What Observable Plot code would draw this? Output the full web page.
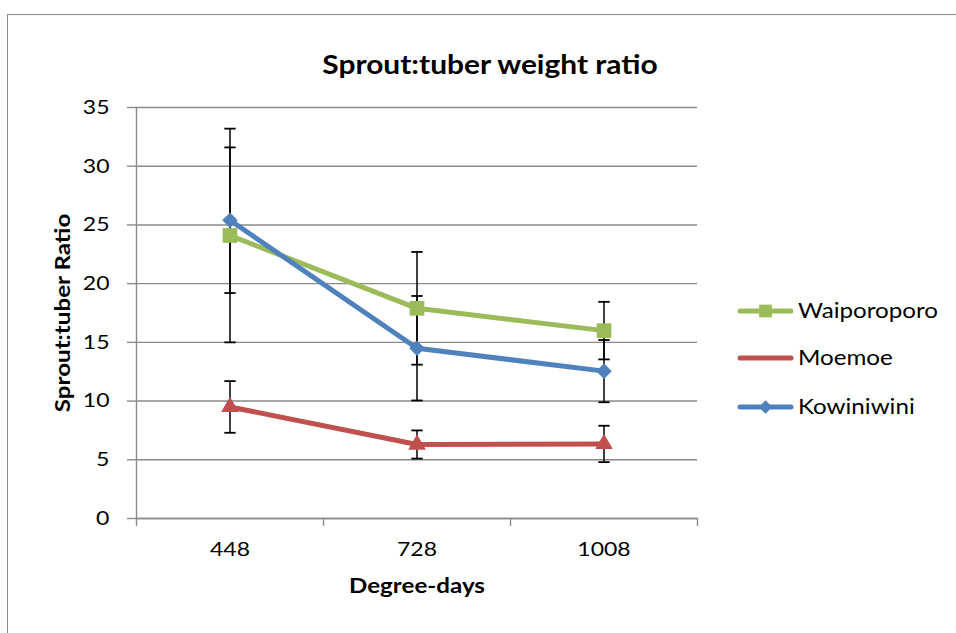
<!DOCTYPE html>
<html><head><meta charset="utf-8">
<script src="https://cdn.jsdelivr.net/npm/d3@7"></script>
<script src="https://cdn.jsdelivr.net/npm/@observablehq/plot@0.6"></script>
<style>
body{margin:0;background:#fff;}
#wrap{position:relative;width:956px;height:633px;overflow:hidden;background:#fff;}
#frame{position:absolute;left:7px;top:14px;width:980px;height:660px;border:1.5px solid #8a8a8a;box-sizing:border-box;}
#chart{position:absolute;left:0;top:0;}
</style></head><body>
<div id="wrap"><div id="frame"></div><div id="chart"></div></div>
<script>
const FONT = "Lato, 'Open Sans', sans-serif";
const titleText = "Sprout:tuber weight ratio";
const xLabel = "Degree-days";
const yLabel = "Sprout:tuber Ratio";
const categories = ["448", "728", "1008"];
const seriesNames = ["Waiporoporo", "Moemoe", "Kowiniwini"];
const waiporoporo = [24.1, 17.9, 16.0];
const waiporoporoErr = [9.1, 4.8, 2.45];
const moemoe = [9.5, 6.3, 6.35];
const moemoeErr = [2.2, 1.2, 1.55];
const kowiniwini = [25.4, 14.5, 12.55];
const kowiniwiniErr = [6.2, 4.45, 2.65];
const yTicks = [0, 5, 10, 15, 20, 25, 30, 35];
const colors = ["#9BBB59", "#C0504D", "#4F81BD"];
const symbols = ["square", "triangle", "diamond2"];
const symbolR = [8.3, 6.6, 7.0];
const legendMarker = [true, false, true];
const STRETCH = 1.15;

const values = [waiporoporo, moemoe, kowiniwini];
const errors = [waiporoporoErr, moemoeErr, kowiniwiniErr];
const rows = [];
seriesNames.forEach((s, k) => categories.forEach((c, i) => rows.push({
  series: s, k, i, cat: c, y: values[k][i], err: errors[k][i],
  lo: values[k][i] - errors[k][i], hi: values[k][i] + errors[k][i]
})));

const capSymbol = {draw(ctx, size) { const w = Math.sqrt(size); ctx.moveTo(-w, 0); ctx.lineTo(w, 0); }};

const seriesMarks = [];
seriesNames.forEach((s, k) => {
  const d = rows.filter(r => r.k === k);
  seriesMarks.push(Plot.line(d, {x: "i", y: "y", stroke: colors[k], strokeWidth: 5, strokeLinecap: "round", strokeLinejoin: "round"}));
});
seriesNames.forEach((s, k) => {
  const d = rows.filter(r => r.k === k);
  seriesMarks.push(Plot.ruleX(d, {x: "i", y1: "lo", y2: "hi", stroke: "#000", strokeWidth: 1.5}));
  seriesMarks.push(Plot.dot(d, {x: "i", y: "lo", symbol: capSymbol, r: 3.2, stroke: "#000", strokeWidth: 1.8, fill: "none"}));
  seriesMarks.push(Plot.dot(d, {x: "i", y: "hi", symbol: capSymbol, r: 3.2, stroke: "#000", strokeWidth: 1.8, fill: "none"}));
});
seriesNames.forEach((s, k) => {
  const d = rows.filter(r => r.k === k);
  seriesMarks.push(Plot.dot(d, {x: "i", y: "y", symbol: symbols[k], r: symbolR[k], fill: colors[k], stroke: "none"}));
});

const chart = Plot.plot({
  width: 956, height: 633,
  marginLeft: 136, marginRight: 259, marginTop: 107, marginBottom: 115,
  style: {fontFamily: FONT, fontSize: "20px", background: "transparent", color: "#000", overflow: "visible"},
  x: {domain: [-0.5, categories.length - 0.5]},
  y: {domain: [0, 35]},
  marks: [
    Plot.gridY(yTicks, {stroke: "#8a8a8a", strokeOpacity: 1, strokeWidth: 1.4}),
    Plot.ruleX([-0.5], {stroke: "#8a8a8a", strokeWidth: 1.4}),
    Plot.ruleY([0], {stroke: "#8a8a8a", strokeWidth: 1.4}),
    Plot.axisY(yTicks, {tickSize: 9, tickPadding: 18, stroke: "#8a8a8a", strokeWidth: 1.4, label: null, fontSize: 20, fill: "#000"}),
    Plot.axisX([-0.5, 0.5, 1.5, 2.5], {tickSize: 8, tickFormat: () => "", stroke: "#8a8a8a", strokeWidth: 1.4, label: null}),
    Plot.axisX([0, 1, 2], {tickSize: 0, tickPadding: 23, tickFormat: i => categories[i], label: null, fontSize: 20, fill: "#000"}),
    ...seriesMarks,
    Plot.text([titleText], {frameAnchor: "top", dx: 73, dy: -52, fontSize: 26, fontWeight: "bold", fill: "#000"}),
    Plot.text([yLabel], {frameAnchor: "left", dx: -73, rotate: -90, textAnchor: "middle", fontSize: 21, fontWeight: "bold", fill: "#000"}),
    Plot.text([xLabel], {frameAnchor: "bottom", dy: 74, fontSize: 21, fontWeight: "bold", fill: "#000"})
  ]
});
document.getElementById("chart").appendChild(chart);

// legend
const svg = d3.select(chart);
const lg = svg.append("g").attr("font-family", FONT).attr("font-size", 21).attr("text-anchor", "start");
const legendY = [311, 358, 407];
seriesNames.forEach((s, k) => {
  const g = lg.append("g").attr("transform", `translate(740,${legendY[k]})`);
  g.append("line").attr("x1", 0).attr("x2", 51).attr("stroke", colors[k]).attr("stroke-width", 5).attr("stroke-linecap", "round");
  if (legendMarker[k]) g.append("path").attr("transform", "translate(25.5,0)")
    .attr("d", d3.symbol(k === 0 ? d3.symbolSquare : d3.symbolDiamond2, Math.PI * symbolR[k] * symbolR[k] * 0.75)())
    .attr("fill", colors[k]);
  g.append("text").attr("x", 58).attr("dy", "0.35em").attr("fill", "#000").text(s);
});

// widen glyphs horizontally to match the reference's wide lettering
svg.selectAll("text").each(function() {
  const t = this;
  if (!t.textContent) return;
  const len = t.getComputedTextLength();
  if (len > 0) {
    t.setAttribute("textLength", (len * STRETCH).toFixed(1));
    t.setAttribute("lengthAdjust", "spacingAndGlyphs");
  }
});
</script>
</body></html>
